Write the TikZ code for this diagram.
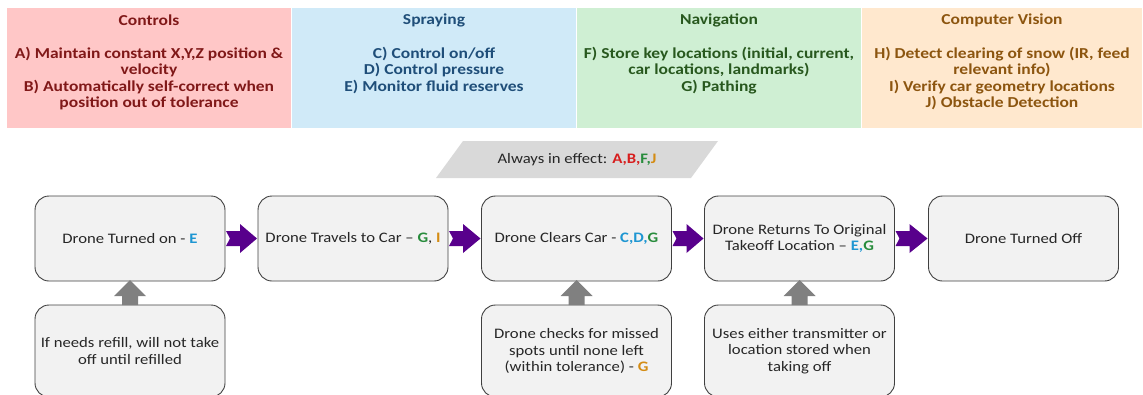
\documentclass[tikz,border=0pt]{standalone}
\usepackage{fontspec}
\setmainfont{Carlito}[FakeStretch=1.15]
\usetikzlibrary{calc}

% panel colours
\definecolor{ctrlfill}{RGB}{255,199,199}
\definecolor{ctrltext}{RGB}{128,24,24}
\definecolor{sprayfill}{RGB}{208,234,248}
\definecolor{spraytext}{RGB}{31,78,121}
\definecolor{navfill}{RGB}{207,239,211}
\definecolor{navtext}{RGB}{40,88,30}
\definecolor{cvfill}{RGB}{255,232,206}
\definecolor{cvtext}{RGB}{140,85,15}
% flow colours
\definecolor{boxfill}{RGB}{242,242,242}
\definecolor{boxdraw}{RGB}{64,64,64}
\definecolor{bodytext}{RGB}{38,38,38}
\definecolor{flowarrow}{RGB}{88,0,140}
\definecolor{uparrow}{RGB}{128,128,128}
\definecolor{bandfill}{RGB}{217,217,217}
% requirement letter colours
\definecolor{lblue}{RGB}{30,150,210}
\definecolor{lgreen}{RGB}{40,140,60}
\definecolor{lorange}{RGB}{212,140,20}
\definecolor{lred}{RGB}{215,30,30}

\newcommand{\req}[2]{\textcolor{#1}{\textbf{#2}}}

\begin{document}
\begin{tikzpicture}[x=1pt,y=-1pt,
  every node/.style={inner sep=0pt, outer sep=0pt},
  panel/.style={minimum width=284pt, minimum height=120pt},
  headtext/.style={align=center, font=\fontsize{15.2}{16.5}\selectfont\bfseries},
  bodyfont/.style={font=\fontsize{14.5}{16.5}\selectfont},
  flowbox/.style={draw=boxdraw, line width=0.9pt, fill=boxfill,
    rounded corners=14pt, minimum width=190pt, minimum height=85pt,
    align=center, text=bodytext, bodyfont},
  notebox/.style={flowbox, minimum height=92pt},
]
\useasboundingbox (0,0) rectangle (1143,394);
\clip (0,0) rectangle (1143,394);

% ---- category panels ----
\node[panel, fill=ctrlfill]  (ctrl)  at (149,68) {};
\node[panel, fill=sprayfill] (spray) at (434,68) {};
\node[panel, fill=navfill]   (nav)   at (719,68) {};
\node[panel, fill=cvfill, minimum width=280pt] (cv) at (1002,68) {};

\node[headtext, text=ctrltext]  (ctrlT)  at (149,20) {Controls};
\node[headtext, text=spraytext] (sprayT) at (434,20) {Spraying};
\node[headtext, text=navtext]   (navT)   at (719,20) {Navigation};
\node[headtext, text=cvtext]    (cvT)    at (1002,20) {Computer Vision};

\node[headtext, text=ctrltext, anchor=north] (ctrlL) at (149,47)
  {A) Maintain constant X,Y,Z position \&\\ velocity\\
   B) Automatically self-correct when\\ position out of tolerance};
\node[headtext, text=spraytext, anchor=north] (sprayL) at (434,47)
  {C) Control on/off\\ D) Control pressure\\ E) Monitor fluid reserves};
\node[headtext, text=navtext, anchor=north] (navL) at (719,47)
  {F) Store key locations (initial, current,\\ car locations, landmarks)\\ G) Pathing};
\node[headtext, text=cvtext, anchor=north] (cvL) at (1002,47)
  {H) Detect clearing of snow (IR, feed\\ relevant info)\\
   I) Verify car geometry locations\\ J) Obstacle Detection};

% ---- always-active band ----
\fill[bandfill] (436,178) -- (463,141) -- (718,141) -- (691,178) -- cycle;
\node[bodyfont, text=bodytext] (always) at (577,160)
  {Always in effect: \req{lred}{A,B,}\req{lgreen}{F,}\req{lorange}{J}};

% ---- flow steps ----
\node[flowbox] (s1) at (130,238.5)
  {Drone Turned on - \req{lblue}{E}};
\node[flowbox] (s2) at (353,238.5)
  {Drone Travels to Car -- \req{lgreen}{G}, \req{lorange}{I}};
\node[flowbox] (s3) at (576.5,238.5)
  {Drone Clears Car - \req{lblue}{C,D,}\req{lgreen}{G}};
\node[flowbox] (s4) at (799.5,238.5)
  {Drone Returns To Original\\ Takeoff Location -- \req{lblue}{E,}\req{lgreen}{G}};
\node[flowbox] (s5) at (1023.5,238.5)
  {Drone Turned Off};

% ---- side conditions ----
\node[notebox] (n1) at (130,351)
  {If needs refill, will not take\\ off until refilled};
\node[notebox] (n3) at (576.5,351)
  {Drone checks for missed\\ spots until none left\\ (within tolerance) - \req{lorange}{G}};
\node[notebox] (n4) at (799.5,351)
  {Uses either transmitter or\\ location stored when\\ taking off};

% ---- notched arrows between steps ----
\foreach \a/\b in {s1/s2, s2/s3, s3/s4, s4/s5}{
  \fill[flowarrow]
    ($(\a.east)+(1,-7.5)$) -- ($(\a.east)+(15,-7.5)$) --
    ($(\a.east)+(15,-14.5)$) -- ($(\b.west)+(-1,0)$) --
    ($(\a.east)+(15,14.5)$) -- ($(\a.east)+(15,7.5)$) --
    ($(\a.east)+(1,7.5)$) -- ($(\a.east)+(5,0)$) -- cycle;
}

% ---- block arrows from conditions up to steps ----
\foreach \n/\s in {n1/s1, n3/s3, n4/s4}{
  \fill[uparrow]
    ($(\n.north)+(-8,0)$) -- ($(\n.north)+(-8,-9)$) --
    ($(\n.north)+(-16,-9)$) -- ($(\s.south)+(0,-1)$) --
    ($(\n.north)+(16,-9)$) -- ($(\n.north)+(8,-9)$) --
    ($(\n.north)+(8,0)$) -- cycle;
}
\end{tikzpicture}
\end{document}
